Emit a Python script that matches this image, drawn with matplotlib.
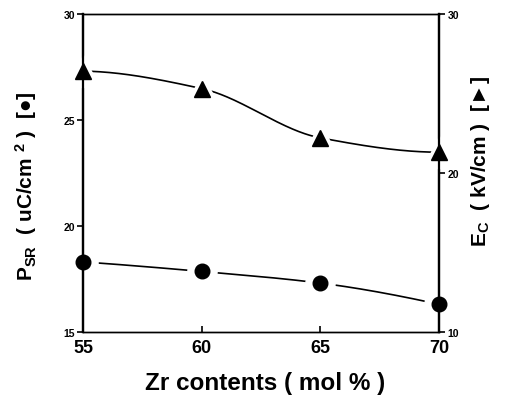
import numpy as np
import matplotlib
matplotlib.use("Agg")
import matplotlib.pyplot as plt

plt.rcParams['font.family'] = ['Liberation Sans', 'DejaVu Sans']
plt.rcParams['mathtext.fontset'] = 'custom'
plt.rcParams['mathtext.rm'] = 'Liberation Sans'
plt.rcParams['mathtext.it'] = 'Liberation Sans'
plt.rcParams['mathtext.bf'] = 'Liberation Sans:bold'

zr = [55, 60, 65, 70]
psr = [18.3, 17.85, 17.3, 16.3]
ec = [26.4, 25.3, 22.2, 21.3]
x_ticks = [55, 60, 65, 70]
left_ticks = [15, 20, 25, 30]
right_ticks = [10, 20, 30]


def pchip(x, y, xs):
    """Monotone cubic (Fritsch-Carlson) guide curve through the points."""
    x = np.asarray(x, float)
    y = np.asarray(y, float)
    h = np.diff(x)
    d = np.diff(y) / h
    n = len(x)
    m = np.zeros(n)
    for k in range(1, n - 1):
        if d[k - 1] * d[k] > 0:
            w1 = 2 * h[k] + h[k - 1]
            w2 = h[k] + 2 * h[k - 1]
            m[k] = (w1 + w2) / (w1 / d[k - 1] + w2 / d[k])
    m0 = ((2 * h[0] + h[1]) * d[0] - h[0] * d[1]) / (h[0] + h[1])
    m[0] = m0 if np.sign(m0) == np.sign(d[0]) else 0.0
    mn = ((2 * h[-1] + h[-2]) * d[-1] - h[-1] * d[-2]) / (h[-1] + h[-2])
    m[-1] = mn if np.sign(mn) == np.sign(d[-1]) else 0.0
    idx = np.clip(np.searchsorted(x, xs) - 1, 0, n - 2)
    t = (xs - x[idx]) / h[idx]
    h00 = 2 * t**3 - 3 * t**2 + 1
    h10 = t**3 - 2 * t**2 + t
    h01 = -2 * t**3 + 3 * t**2
    h11 = t**3 - t**2
    return h00 * y[idx] + h10 * h[idx] * m[idx] + h01 * y[idx + 1] + h11 * h[idx] * m[idx + 1]


fig = plt.figure(figsize=(5.1, 4.02), dpi=100)
ax = fig.add_axes([0.163, 0.172, 0.698, 0.791])
ax2 = ax.twinx()

xs = np.linspace(zr[0], zr[-1], 300)
ax.plot(xs, pchip(zr, psr, xs), color='black', lw=1.2, zorder=1)
ax2.plot(xs, pchip(zr, ec, xs), color='black', lw=1.2, zorder=1)

ax.plot(zr, psr, 'o', ms=21, color='white', zorder=2, clip_on=False)
ax.plot(zr, psr, 'o', ms=10.5, color='black', zorder=3, clip_on=False)
ax2.plot(zr, ec, '^', ms=23, color='white', zorder=2, clip_on=False)
ax2.plot(zr, ec, '^', ms=11, color='black', zorder=3, clip_on=False)

ax.set_xlim(55, 70)
ax.set_ylim(15, 30)
ax2.set_ylim(10, 30)
ax.set_xticks(x_ticks)
ax.set_yticks(left_ticks)
ax2.set_yticks(right_ticks)

ax.tick_params(axis='x', direction='in', labelsize=13, length=4, width=1.2, pad=5)
ax.tick_params(axis='y', direction='out', labelsize=7.5, length=4, width=1.2, pad=2)
ax2.tick_params(axis='y', direction='out', labelsize=7.5, length=4, width=1.2, pad=2)
for lab in ax.get_xticklabels() + ax.get_yticklabels() + ax2.get_yticklabels():
    lab.set_fontweight('bold')

for sp in ['left', 'right']:
    ax.spines[sp].set_linewidth(1.6)
    ax2.spines[sp].set_linewidth(1.6)
for sp in ['top', 'bottom']:
    ax.spines[sp].set_linewidth(1.0)
    ax2.spines[sp].set_linewidth(1.0)

ax.set_xlabel('Zr contents ( mol % )', fontsize=17.5, fontweight='bold', va='center')
ax.xaxis.set_label_coords(0.51, -0.16)
ax.set_ylabel(r'P$_{\mathbf{SR}}$  ( uC/cm $^{\mathbf{2}}$ )  [●]', fontsize=15,
              fontweight='bold', va='center')
ax.yaxis.set_label_coords(-0.16, 0.46)
ax2.set_ylabel(r'E$_{\mathbf{C}}$  ( kV/cm )  [►]', fontsize=15, fontweight='bold',
               va='center', rotation=90)
ax2.yaxis.set_label_coords(1.115, 0.54)

fig.savefig('out.png', dpi=100)
